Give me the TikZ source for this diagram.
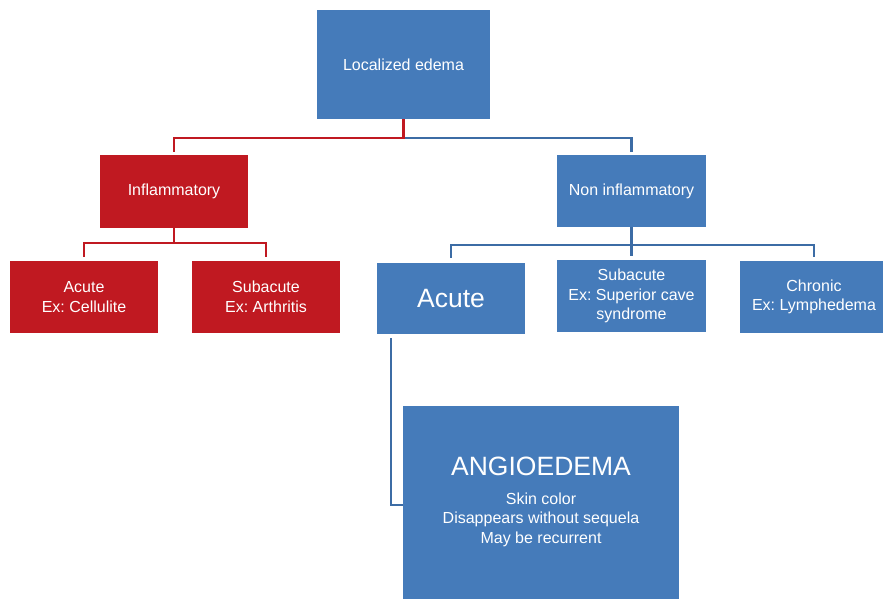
\documentclass[tikz,border=0pt]{standalone}
\usepackage{fontspec}
\setmainfont{Liberation Sans}
\frenchspacing
\definecolor{boxblue}{RGB}{69,123,186}
\definecolor{boxred}{RGB}{192,25,33}
\definecolor{lineblue}{RGB}{60,108,165}
\definecolor{linered}{RGB}{192,25,33}
\begin{document}
\begin{tikzpicture}[x=1pt,y=-1pt,
  box/.style={draw=none,text=white,align=center,inner sep=2pt,
    font=\fontsize{16}{19.5}\selectfont},
  bluebox/.style={box,fill=boxblue},
  redbox/.style={box,fill=boxred},
  redline/.style={draw=linered,line width=2.3pt},
  blueline/.style={draw=lineblue,line width=2.3pt}]
\useasboundingbox (0,0) rectangle (883,599);
\clip (0,0) rectangle (883,599);

% boxes
\node[bluebox,minimum width=173pt,minimum height=109pt] (root) at (403.5,64.5) {Localized edema};
\node[redbox,minimum width=148pt,minimum height=73pt] (infl) at (174,191.5) {Inflammatory};
\node[bluebox,minimum width=149pt,minimum height=72pt] (noninfl) at (631.5,191) {Non inflammatory};
\node[redbox,minimum width=148pt,minimum height=72pt] (racute) at (84,297) {Acute\\Ex: Cellulite};
\node[redbox,minimum width=148pt,minimum height=72pt] (rsub) at (266,297) {Subacute\\Ex: Arthritis};
\node[bluebox,minimum width=148pt,minimum height=71pt,font=\fontsize{26.5}{30}\selectfont] (bacute) at (451,298.5) {Acute};
\node[bluebox,minimum width=149pt,minimum height=72pt] (bsub) at (631.5,296) {Subacute\\Ex: Superior cave\\syndrome};
\node[bluebox,minimum width=148pt,minimum height=72pt] (chronic) at (814,297) {Chronic\\Ex: Lymphedema};
\node[bluebox,minimum width=276pt,minimum height=193pt] (angio) at (541,502.5) {};
\node[box,anchor=center] (angiotext) at (541,502)
  {{\fontsize{26.5}{30}\selectfont ANGIOEDEMA}\\[9pt]Skin color\\Disappears without sequela\\May be recurrent};

% first level
\draw[blueline] (root.south) -- ++(0,19) coordinate (rj);
\draw[blueline,shorten >=3pt] (rj) -| (noninfl.north);
\draw[redline,shorten >=3pt] (root.south) -- (rj) -| (infl.north);

% inflammatory branches
\draw[redline] (infl.south) -- ++(0,15) coordinate (ij);
\draw[redline,shorten >=4pt] (ij) -| (racute.north);
\draw[redline,shorten >=4pt] (ij) -| (rsub.north);

% non inflammatory branches
\draw[blueline] (noninfl.south) -- ++(0,18) coordinate (nj);
\draw[blueline,shorten >=5pt] (nj) -| (bacute.north);
\draw[blueline,shorten >=4pt] (nj) -- (bsub.north);
\draw[blueline,shorten >=4pt] (nj) -| (chronic.north);

% acute to angioedema
\draw[blueline] ([xshift=14pt,yshift=-4pt]bacute.south west) |- ([yshift=-2.5pt]angio.west);
\end{tikzpicture}
\end{document}
